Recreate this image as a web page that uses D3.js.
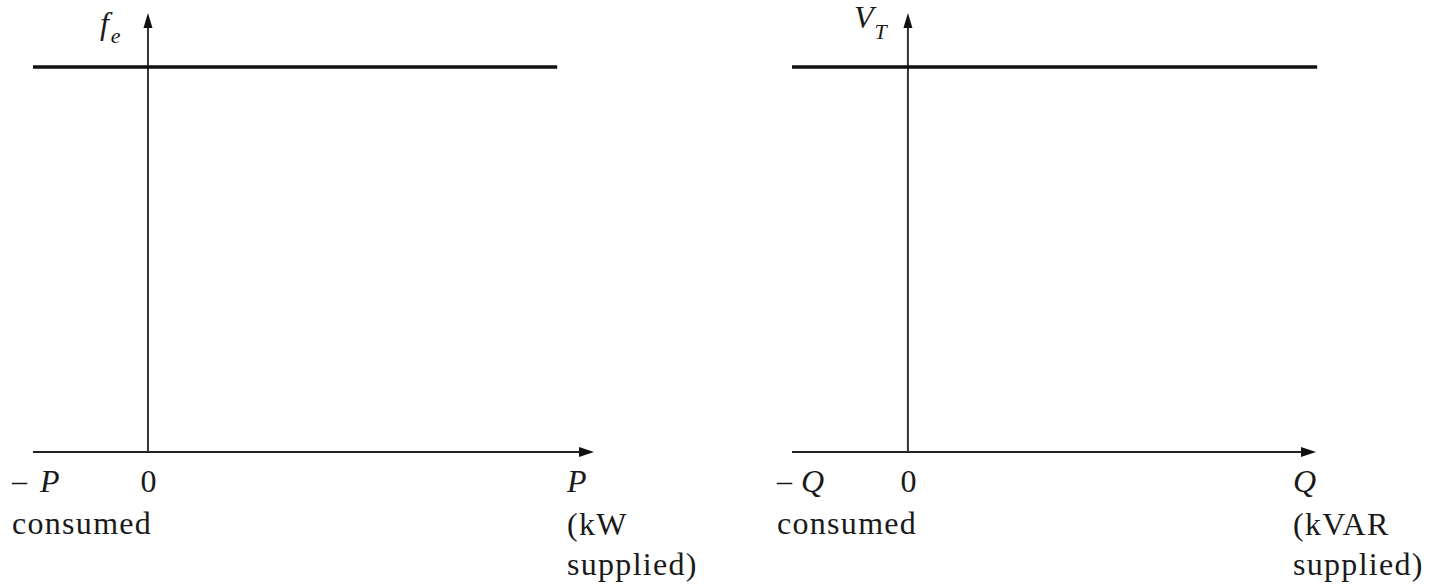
<!DOCTYPE html>
<html>
<head>
<meta charset="utf-8">
<script src="https://cdn.jsdelivr.net/npm/d3@7"></script>
<style>
  body { margin: 0; background: #fff; }
  text { font-family: "Liberation Serif", "Times New Roman", serif; fill: #1a1a1a; }
  .word { font-size: 32px; letter-spacing: 1.3px; }
  .sym { font-size: 32px; font-style: italic; }
</style>
</head>
<body>
<div id="chart"></div>
<script>
// data for the two panels (left: frequency vs real power, right: voltage vs reactive power)
const xLabels = ["P", "Q"];
const xUnitLines = [["(kW", "supplied)"], ["(kVAR", "supplied)"]];
const yLabels = ["f", "V"];
const ySubs = ["e", "T"];
const xDomains = [[-1, 3.88], [-1, 3.52]];
const flatLineX = [[-1, 3.56], [-1, 3.53]];
const flatLevel = [1, 1];
const yDomain = [0, 1.14];
const tickValues = [0];

/** CONSTANTS */
const width = 1433,
    height = 584,
    panelRanges = [[33, 594], [792, 1316]],
    axisY = 452,
    topY = 13;

const svg = d3.select("#chart")
    .append("svg")
    .attr("width", width)
    .attr("height", height)

const yScale = d3.scaleLinear()
    .domain(yDomain)
    .range([axisY, topY])

xLabels.forEach((lab, i) => {
    const xScale = d3.scaleLinear()
        .domain(xDomains[i])
        .range(panelRanges[i])

    const g = svg.append("g")
    const x0 = xScale(0)
    const xEnd = xScale(xDomains[i][1])

    // x axis line + arrow
    g.append("line")
        .attr("x1", xScale(xDomains[i][0])).attr("x2", xEnd - 8)
        .attr("y1", yScale(0)).attr("y2", yScale(0))
        .attr("stroke", "#222").attr("stroke-width", 2)
    g.append("path")
        .attr("d", `M${xEnd},${yScale(0)} L${xEnd - 15},${yScale(0) - 5} L${xEnd - 15},${yScale(0) + 5} Z`)
        .attr("fill", "#111")

    // y axis line + arrow
    const yTop = yScale(yDomain[1])
    g.append("line")
        .attr("x1", x0).attr("x2", x0)
        .attr("y1", yScale(0)).attr("y2", yTop + 8)
        .attr("stroke", "#333").attr("stroke-width", 2)
    g.append("path")
        .attr("d", `M${x0},${yTop} L${x0 - 4.5},${yTop + 15} L${x0 + 4.5},${yTop + 15} Z`)
        .attr("fill", "#111")

    // the flat characteristic
    g.append("line")
        .attr("x1", xScale(flatLineX[i][0])).attr("x2", xScale(flatLineX[i][1]))
        .attr("y1", yScale(flatLevel[i])).attr("y2", yScale(flatLevel[i]))
        .attr("stroke", "#111").attr("stroke-width", 3.5)

    // "0" tick label via axis
    const axis = d3.axisBottom(xScale).tickValues(tickValues).tickSize(0).tickFormat(d3.format("d"))
    const ax = g.append("g")
        .attr("transform", `translate(0,${yScale(0)})`)
        .call(axis)
    ax.select(".domain").remove()
    ax.selectAll("text")
        .attr("y", 40).attr("dy", 0)
        .attr("class", "word")
        .style("letter-spacing", "0px")
        .attr("font-family", null).attr("font-size", null)
        .attr("fill", "#1a1a1a")

    // negative end: "– P" / "– Q" and "consumed"
    const left = xScale(xDomains[i][0]) - (i === 0 ? 21 : 15)
    g.append("text")
        .attr("x", left).attr("y", 491)
        .style("font-size", "30px")
        .text("–")
    g.append("text")
        .attr("class", "sym")
        .attr("x", left + (i === 0 ? 28 : 24)).attr("y", 492)
        .text(lab)
    g.append("text")
        .attr("class", "word")
        .attr("x", left).attr("y", 534)
        .text("consumed")

    // positive end
    const right = xEnd - (i === 0 ? 27 : 23)
    g.append("text")
        .attr("class", "sym")
        .attr("x", right).attr("y", 492)
        .text(lab)
    xUnitLines[i].forEach((t, j) => {
        g.append("text")
            .attr("class", "word")
            .attr("x", right).attr("y", 535 + j * 40)
            .text(t)
    })

    // y label with subscript
    const yl = g.append("text")
        .attr("class", "sym")
        .attr("x", x0 - (i === 0 ? 48 : 54))
        .attr("y", i === 0 ? 34 : 28)
    yl.append("tspan").text(yLabels[i])
    yl.append("tspan")
        .attr("dx", i === 0 ? 2 : 1)
        .attr("dy", i === 0 ? 9 : 11)
        .style("font-size", i === 0 ? "22px" : "22px")
        .text(ySubs[i])
})
</script>
</body>
</html>
